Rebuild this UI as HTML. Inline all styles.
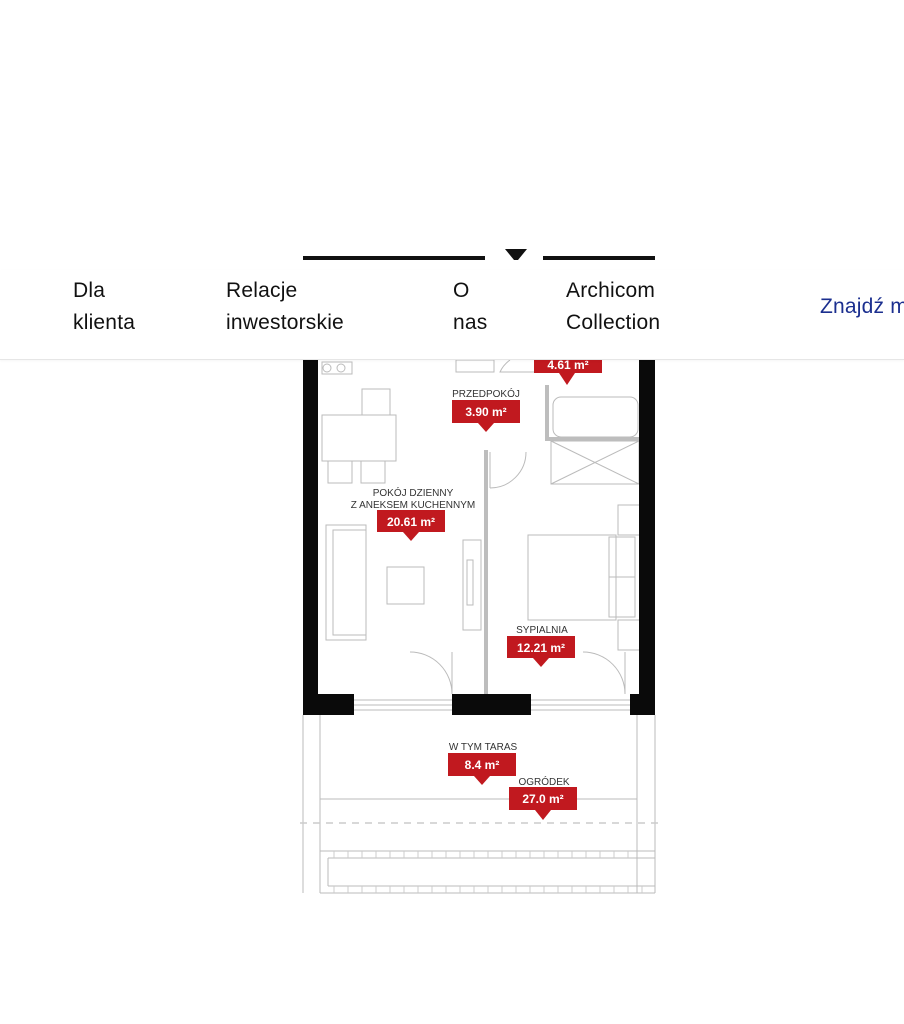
<!DOCTYPE html>
<html><head><meta charset="utf-8"><style>
html,body{margin:0;padding:0;background:#fff;width:904px;height:1024px;overflow:hidden;position:relative;font-family:"Liberation Sans",sans-serif}
svg{position:absolute;left:0;top:0}
.nav{position:absolute;top:270px;left:0;width:904px;height:89px;background:#fff;border-bottom:1px solid #e6e6e6;box-shadow:0 1px 2px rgba(0,0,0,0.04);overflow:hidden}
.n{position:absolute;font-size:21px;line-height:32px;color:#111;top:5px;letter-spacing:0.2px}
</style></head><body>
<svg width="904" height="1024" viewBox="0 0 904 1024">
<g fill="none" stroke="#bbb" stroke-width="1">
<rect x="322" y="415" width="74" height="46"/>
<rect x="362" y="389" width="28" height="26"/>
<rect x="328" y="461" width="24" height="22"/>
<rect x="361" y="461" width="24" height="22"/>
<rect x="326" y="525" width="40" height="115"/>
<rect x="333" y="530" width="33" height="105"/>
<rect x="387" y="567" width="37" height="37"/>
<rect x="463" y="540" width="18" height="90"/>
<rect x="467" y="560" width="6" height="45"/>
<rect x="322" y="362" width="30" height="12"/>
<circle cx="327" cy="368" r="4"/><circle cx="341" cy="368" r="4"/>
<rect x="528" y="535" width="88" height="85"/>
<rect x="609" y="537" width="26" height="40"/>
<rect x="609" y="577" width="26" height="40"/>
<rect x="618" y="505" width="22" height="30"/>
<rect x="618" y="620" width="22" height="30"/>
<rect x="553" y="397" width="85" height="40" rx="8"/>
<rect x="551" y="441" width="88" height="43"/>
<path d="M551 441 L639 484 M639 441 L551 484"/>
<rect x="456" y="360" width="38" height="12"/>
<path d="M490 452 L490 488 M490 488 A36 36 0 0 0 526 452"/>
<path d="M452 652 L452 694 A42 42 0 0 0 410 652"/>
<path d="M625 652 L625 694 A42 42 0 0 0 583 652"/>
<path d="M510 360 A30 30 0 0 0 500 372 L545 372"/>
<path d="M354 700 L452 700 M354 705 L452 705 M354 710 L452 710"/>
<path d="M531 700 L630 700 M531 705 L630 705 M531 710 L630 710"/>
<path d="M320 715 L320 893 M637 715 L637 893 M303 715 L303 893 M655 715 L655 893"/>
<path d="M320 799 L637 799"/>
<path d="M320 851 L655 851 M328 858 L655 858 M328 886 L655 886 M320 893 L655 893 M328 858 L328 886"/>
</g>
<path d="M300 823 L660 823" stroke="#ccc" stroke-width="1.5" stroke-dasharray="7 6"/>
<g stroke="#ccc" stroke-width="1">
<path d="M334 851V858M348 851V858M362 851V858M376 851V858M390 851V858M404 851V858M418 851V858M432 851V858M446 851V858M460 851V858M474 851V858M488 851V858M502 851V858M516 851V858M530 851V858M544 851V858M558 851V858M572 851V858M586 851V858M600 851V858M614 851V858M628 851V858"/>
<path d="M334 886V893M348 886V893M362 886V893M376 886V893M390 886V893M404 886V893M418 886V893M432 886V893M446 886V893M460 886V893M474 886V893M488 886V893M502 886V893M516 886V893M530 886V893M544 886V893M558 886V893M572 886V893M586 886V893M600 886V893M614 886V893M628 886V893M642 886V893"/>
</g>
<rect x="484" y="450" width="4" height="245" fill="#bdbdbd"/>
<rect x="545" y="385" width="4" height="56" fill="#bdbdbd"/>
<rect x="545" y="437" width="95" height="4" fill="#bdbdbd"/>
<g fill="#0a0a0a">
<rect x="303" y="360" width="15" height="355"/>
<rect x="639" y="360" width="16" height="355"/>
<rect x="303" y="694" width="51" height="21"/>
<rect x="452" y="694" width="79" height="21"/>
<rect x="630" y="694" width="25" height="21"/>
</g>
<rect x="303" y="256" width="182" height="4" fill="#111"/>
<rect x="543" y="256" width="112" height="4" fill="#111"/>
<path d="M505 249 L527 249 L518 260 L514 260 Z" fill="#111"/>
<g font-family="Liberation Sans, sans-serif" text-anchor="middle">
<g fill="#c1191f">
<rect x="534" y="352" width="68" height="21"/><path d="M559 373 L575 373 L567 385Z"/>
<rect x="452" y="400" width="68" height="23"/><path d="M478 423 L494 423 L486 432Z"/>
<rect x="377" y="510" width="68" height="22"/><path d="M403 532 L419 532 L411 541Z"/>
<rect x="507" y="636" width="68" height="22"/><path d="M533 658 L549 658 L541 667Z"/>
<rect x="448" y="753" width="68" height="23"/><path d="M474 776 L490 776 L482 785Z"/>
<rect x="509" y="787" width="68" height="23"/><path d="M535 810 L551 810 L543 820Z"/>
</g>
<g fill="#fff" font-size="12" font-weight="bold">
<text x="568" y="369">4.61 m²</text>
<text x="486" y="416">3.90 m²</text>
<text x="411" y="526">20.61 m²</text>
<text x="541" y="652">12.21 m²</text>
<text x="482" y="769">8.4 m²</text>
<text x="543" y="803">27.0 m²</text>
</g>
<g fill="#333" font-size="10">
<text x="486" y="397">PRZEDPOKÓJ</text>
<text x="413" y="496">POKÓJ DZIENNY</text>
<text x="413" y="508">Z ANEKSEM KUCHENNYM</text>
<text x="542" y="633">SYPIALNIA</text>
<text x="483" y="750">W TYM TARAS</text>
<text x="544" y="785">OGRÓDEK</text>
</g>
</g>
</svg>
<div class="nav">
<div class="n" style="left:73px">Dla<br>klienta</div>
<div class="n" style="left:226px">Relacje<br>inwestorskie</div>
<div class="n" style="left:453px">O<br>nas</div>
<div class="n" style="left:566px">Archicom<br>Collection</div>
<div class="n" style="left:820px;top:21px;color:#1b2f8f;white-space:nowrap">Znajdź m</div>
</div>
</body></html>
